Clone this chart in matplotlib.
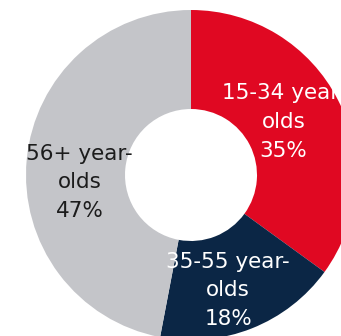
import matplotlib
matplotlib.use("Agg")
import matplotlib.pyplot as plt

# age group shares
groups = ["15-34 year-\nolds", "35-55 year-\nolds", "56+ year-\nolds"]
shares = [35, 18, 47]
colors = ["#E00822", "#0B2645", "#C4C5C9"]
text_colors = ["white", "white", "#1c1c1c"]
# label centres, in units of the outer radius
label_xy = [(0.56, 0.32), (0.225, -0.70), (-0.675, -0.045)]

plt.rcParams["font.family"] = ["DejaVu Sans"]

fig = plt.figure(figsize=(3.41, 3.36), dpi=100)
ax = fig.add_axes([0, 0, 1, 1])

wedges, _ = ax.pie(shares, colors=colors, startangle=90, counterclock=False,
                   radius=1.0, wedgeprops=dict(width=0.6, linewidth=0))

for g, s, tc, (x, y) in zip(groups, shares, text_colors, label_xy):
    ax.text(x, y, f"{g}\n{s}%", ha="center", va="center",
            color=tc, fontsize=15.5, linespacing=1.55)

ax.set_aspect("auto")
ax.set_xlim(-191 / 165, 150 / 165)
ax.set_ylim(-161 / 165, 175 / 165)
ax.axis("off")

fig.savefig("out.png", dpi=100)
